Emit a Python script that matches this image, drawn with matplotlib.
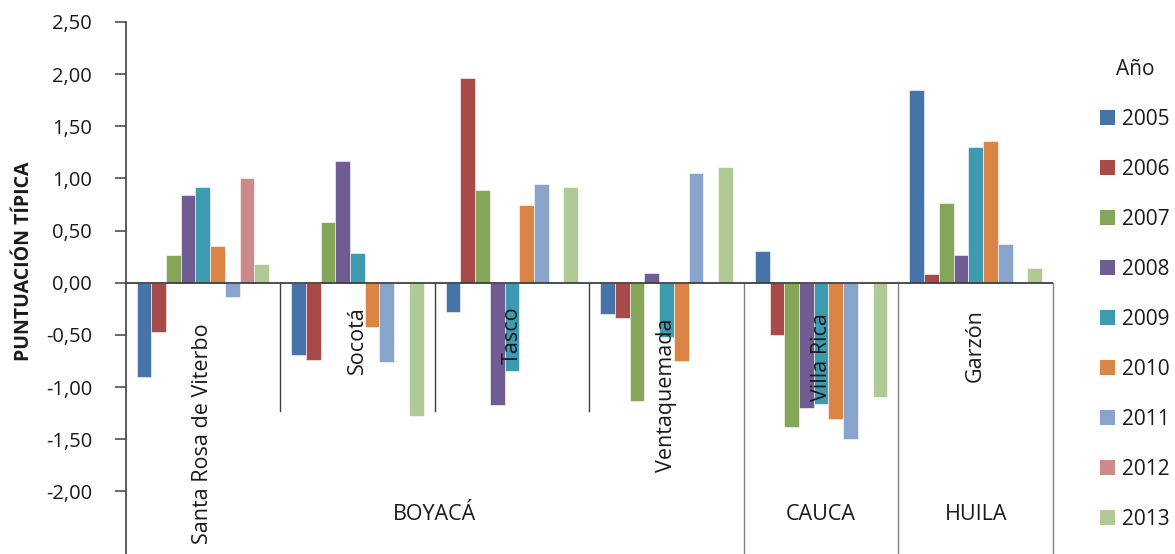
import numpy as np
import matplotlib
matplotlib.use("Agg")
import matplotlib.pyplot as plt
from matplotlib.ticker import FuncFormatter
from matplotlib.patches import Patch

# Municipalities (lower tier) and departments (upper tier)
municipios = ["Santa Rosa de Viterbo", "Socotá", "Tasco", "Ventaquemada", "Villa Rica", "Garzón"]
departamentos = ["BOYACÁ", "CAUCA", "HUILA"]
municipios_por_depto = [4, 1, 1]

years = ["2005", "2006", "2007", "2008", "2009", "2010", "2011", "2012", "2013"]

# Standardised scores per year, one value per municipality (nan = no data)
nan = np.nan
y2005 = [-0.90, -0.69, -0.28, -0.30, 0.30, 1.85]
y2006 = [-0.47, -0.74, 1.96, -0.34, -0.50, 0.08]
y2007 = [0.27, 0.58, 0.89, -1.13, -1.38, 0.76]
y2008 = [0.84, 1.17, -1.17, 0.09, -1.20, 0.27]
y2009 = [0.92, 0.29, -0.85, -0.52, -1.16, 1.30]
y2010 = [0.35, -0.42, 0.75, -0.75, -1.31, 1.36]
y2011 = [-0.14, -0.76, 0.95, 1.05, -1.50, 0.375]
y2012 = [1.00, nan, nan, nan, nan, nan]
y2013 = [0.18, -1.28, 0.92, 1.11, -1.10, 0.14]
series = [y2005, y2006, y2007, y2008, y2009, y2010, y2011, y2012, y2013]

colors = ["#4674A8", "#A84A48", "#85A559", "#6F5C92", "#3D9AAF",
          "#DA8545", "#88A4CA", "#CB8B8A", "#AFCA95"]

plt.rcParams["font.family"] = ["Open Sans", "DejaVu Sans"]
text_color = "#1a1a1a"

W, H = 1175, 554
fig = plt.figure(figsize=(W / 100, H / 100), dpi=100)

ymin, ymax = -2.65, 2.5
px_per_unit = 104.3
ax_h_px = (ymax - ymin) * px_per_unit
ax_top_px = 22
ax_left_px, ax_right_px = 125.5, 1053
ax = fig.add_axes([ax_left_px / W, (H - ax_top_px - ax_h_px) / H,
                   (ax_right_px - ax_left_px) / W, ax_h_px / H])

n_groups = len(municipios)
n_series = len(series)
bar_w = 1 / (n_series + 1.5)
x = np.arange(n_groups) + 0.5

for j, (vals, c) in enumerate(zip(series, colors)):
    ax.bar(x + (j - (n_series - 1) / 2) * bar_w, vals, width=bar_w,
           color=c, edgecolor="white", linewidth=0.4, zorder=2)

ax.set_xlim(0, n_groups)
ax.set_ylim(ymin, ymax)

# Axes styling
for s in ["top", "right", "bottom"]:
    ax.spines[s].set_visible(False)
ax.spines["left"].set_color("#404040")
ax.spines["left"].set_linewidth(1.2)
ax.axhline(0, color="#404040", linewidth=1.3, zorder=3)

ax.set_yticks(np.arange(-2.0, 2.51, 0.5))
ax.yaxis.set_major_formatter(FuncFormatter(lambda v, p: f"{v:.2f}".replace(".", ",")))
ax.tick_params(axis="y", direction="out", length=8, width=1.1, color="#404040",
               pad=16, labelsize=14.5, labelcolor=text_color)
ax.set_xticks([])

# Municipality labels, rotated, hanging below the zero line
label_pad_px = [41, 24, 24, 36, 30, 26]
for i, (name, pad) in enumerate(zip(municipios, label_pad_px)):
    ax.text(x[i], -pad / px_per_unit, name, rotation=90, ha="center", va="top",
            fontsize=15.5, color=text_color, zorder=4)

# Separators between municipalities (lower tier)
sep_bottom = -1.23
bounds = np.cumsum(municipios_por_depto)
for b in range(1, n_groups):
    if b in bounds:
        ax.plot([b, b], [0, ymin], color="#808080", linewidth=1.0, clip_on=False, zorder=1)
    else:
        ax.plot([b, b], [0, sep_bottom], color="#404040", linewidth=1.0, clip_on=False, zorder=1)
ax.plot([n_groups, n_groups], [0, ymin], color="#808080", linewidth=1.0, clip_on=False, zorder=1)

# Department labels (upper tier)
start = 0
for dep, n in zip(departamentos, municipios_por_depto):
    ax.text(start + n / 2, -2.22, dep, ha="center", va="center",
            fontsize=15.5, color=text_color)
    start += n

# Y axis title
fig.text(24 / W, 1 - 261 / H, "PUNTUACIÓN TÍPICA", rotation=90, ha="center", va="center",
         fontsize=14, fontweight="bold", color=text_color)

# Legend
handles = [Patch(facecolor=c, edgecolor="none") for c in colors]
leg = fig.legend(handles, years, title="Año", loc="upper left",
                 bbox_to_anchor=(1100 / W, 1 - 59 / H), frameon=False,
                 fontsize=15, title_fontsize=15, borderpad=0, borderaxespad=0,
                 handlelength=0.72, handleheight=0.72, handletextpad=0.34,
                 labelspacing=1.39)
for t in leg.get_texts():
    t.set_color(text_color)
leg.get_title().set_color(text_color)

fig.savefig("out.png", dpi=100)
